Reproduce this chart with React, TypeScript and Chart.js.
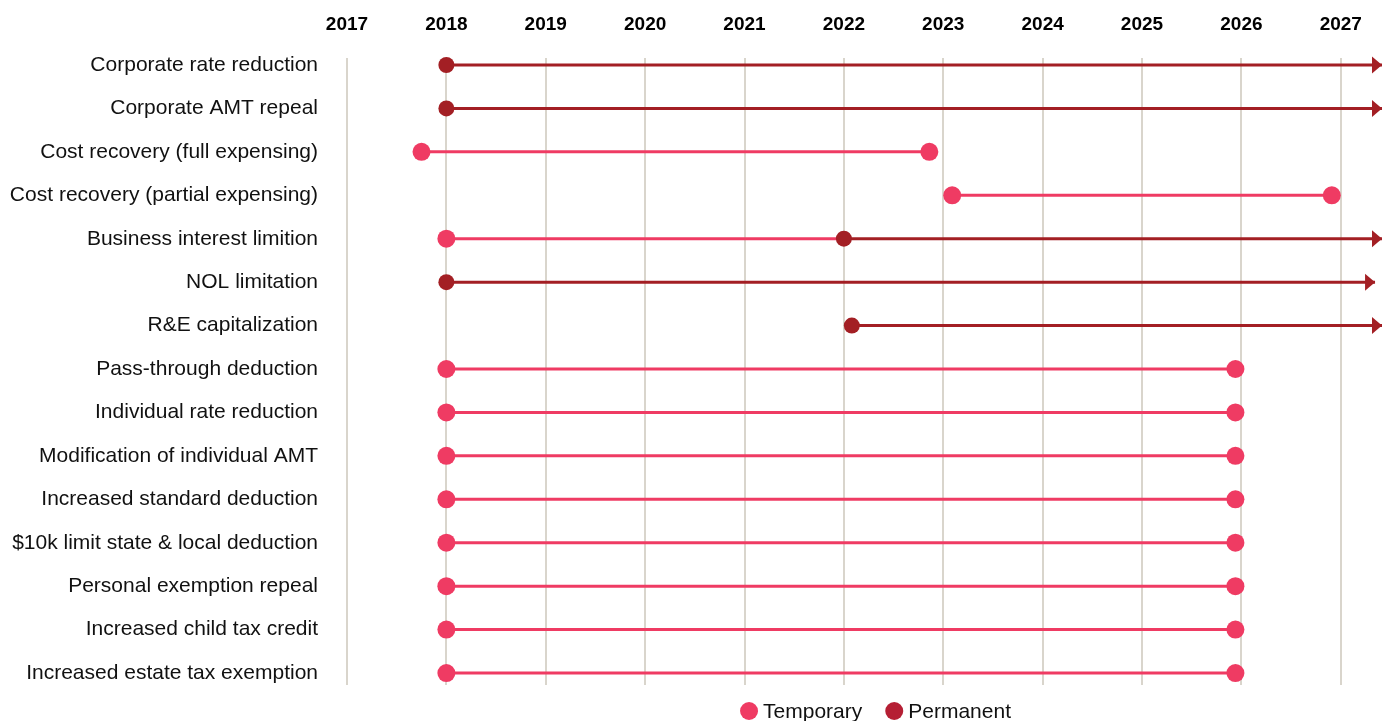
import React, { useEffect, useRef } from "react";
import { Chart, registerables } from "chart.js";
Chart.register(...registerables);

const rows = [
  "Corporate rate reduction",
  "Corporate AMT repeal",
  "Cost recovery (full expensing)",
  "Cost recovery (partial expensing)",
  "Business interest limition",
  "NOL limitation",
  "R&E capitalization",
  "Pass-through deduction",
  "Individual rate reduction",
  "Modification of individual AMT",
  "Increased standard deduction",
  "$10k limit state & local deduction",
  "Personal exemption repeal",
  "Increased child tax credit",
  "Increased estate tax exemption",
];

const years = [2017, 2018, 2019, 2020, 2021, 2022, 2023, 2024, 2025, 2026, 2027];

// Temporary provisions
const tempStart = [null, null, 2017.75, 2023.09, 2018, null, null, 2018, 2018, 2018, 2018, 2018, 2018, 2018, 2018];
const tempEnd = [null, null, 2022.86, 2026.91, 2022, null, null, 2025.94, 2025.94, 2025.94, 2025.94, 2025.94, 2025.94, 2025.94, 2025.94];
const tempEndDot = [false, false, true, true, false, false, false, true, true, true, true, true, true, true, true];

// Permanent provisions (end with an arrow)
const permStart = [2018, 2018, null, null, 2022, 2018, 2022.08, null, null, null, null, null, null, null, null];
const permEnd = [2027.415, 2027.415, null, null, 2027.415, 2027.345, 2027.415, null, null, null, null, null, null, null, null];

const legendLabels = ["Temporary", "Permanent"];

const X_MIN = 2017;
const X_MAX = 2027.415;

const PINK = "#EF3B63";
const DARK = "#A31F24";
const DARK_LEGEND = "#B51F34";
const GRID = "#D9D5CC";
const FONT = "'Liberation Sans', Arial, Helvetica, sans-serif";

const arrowPlugin = {
  id: "arrowHeads",
  afterDatasetsDraw(chart: any) {
    const ctx = chart.ctx;
    chart.data.datasets.forEach((ds: any, i: number) => {
      if (!ds.arrow) return;
      const meta = chart.getDatasetMeta(i);
      const pt = meta.data[meta.data.length - 1];
      if (!pt) return;
      ctx.save();
      ctx.fillStyle = ds.borderColor;
      ctx.beginPath();
      ctx.moveTo(pt.x, pt.y);
      ctx.lineTo(pt.x - 10, pt.y - 8.5);
      ctx.lineTo(pt.x - 10, pt.y + 8.5);
      ctx.closePath();
      ctx.fill();
      ctx.restore();
    });
  },
};

const legendPlugin = {
  id: "bottomLegend",
  afterDraw(chart: any) {
    const ctx = chart.ctx;
    const area = chart.chartArea;
    const colors = [PINK, DARK_LEGEND];
    const r = 9;
    const textGap = 14;
    const itemGap = 23;
    ctx.save();
    ctx.font = `21px ${FONT}`;
    ctx.textBaseline = "middle";
    ctx.textAlign = "left";
    const widths = legendLabels.map((t) => ctx.measureText(t).width);
    const total = widths.reduce((s, w) => s + r + textGap + w, 0) + itemGap * (legendLabels.length - 1);
    const center = (area.left + area.right) / 2 + 11;
    let x = center - total / 2;
    const y = area.bottom + 26;
    legendLabels.forEach((t, k) => {
      ctx.fillStyle = colors[k];
      ctx.beginPath();
      ctx.arc(x + r, y, r, 0, Math.PI * 2);
      ctx.fill();
      ctx.fillStyle = "#111";
      ctx.fillText(t, x + r + textGap, y + 1);
      x += r + textGap + widths[k] + itemGap;
    });
    ctx.restore();
  },
};

export default function App() {
  const ref = useRef<HTMLCanvasElement | null>(null);

  useEffect(() => {
    if (!ref.current) return;
    const datasets: any[] = [];
    rows.forEach((_, i) => {
      if (tempStart[i] != null) {
        datasets.push({
          label: "Temporary",
          data: [
            { x: tempStart[i], y: i },
            { x: tempEnd[i], y: i },
          ],
          borderColor: PINK,
          backgroundColor: PINK,
          borderWidth: 3,
          pointRadius: [9, tempEndDot[i] ? 9 : 0],
          pointHoverRadius: [9, tempEndDot[i] ? 9 : 0],
          pointBackgroundColor: PINK,
          pointBorderWidth: 0,
          clip: false,
          order: 1,
        });
      }
      if (permStart[i] != null) {
        datasets.push({
          label: "Permanent",
          data: [
            { x: permStart[i], y: i },
            { x: permEnd[i], y: i },
          ],
          borderColor: DARK,
          backgroundColor: DARK,
          borderWidth: 3,
          pointRadius: [8, 0],
          pointHoverRadius: [8, 0],
          pointBackgroundColor: DARK,
          pointBorderWidth: 0,
          clip: false,
          order: 0,
          arrow: true,
        });
      }
    });

    const chart = new Chart(ref.current, {
      type: "line",
      data: { datasets },
      plugins: [arrowPlugin, legendPlugin],
      options: {
        animation: false,
        responsive: true,
        maintainAspectRatio: false,
        events: [],
        layout: { autoPadding: false, padding: { top: -8.8, left: 0, right: 0, bottom: 36 } },
        scales: {
          x: {
            type: "linear",
            position: "top",
            min: X_MIN,
            max: X_MAX,
            afterBuildTicks: (scale: any) => {
              scale.ticks = years.map((v) => ({ value: v }));
            },
            afterFit: (scale: any) => {
              scale.paddingLeft = 0;
              scale.paddingRight = 0;
              scale.paddingTop = 0;
              scale.paddingBottom = 0;
            },
            ticks: {
              autoSkip: false,
              padding: 22,
              color: "#000",
              font: { family: FONT, size: 19, weight: "bold" },
              callback: (v: any) => String(v),
            },
            grid: { color: GRID, lineWidth: 2, drawTicks: false },
            border: { display: false },
          },
          y: {
            type: "linear",
            reverse: true,
            min: -0.161,
            max: 14.276,
            afterBuildTicks: (scale: any) => {
              scale.ticks = rows.map((_, i) => ({ value: i }));
            },
            afterFit: (scale: any) => {
              scale.width = 347;
              scale.paddingLeft = 0;
              scale.paddingRight = 0;
              scale.paddingTop = 0;
              scale.paddingBottom = 0;
            },
            ticks: {
              autoSkip: false,
              padding: 29,
              color: "#111",
              font: { family: FONT, size: 21 },
              callback: (v: any) => rows[v as number],
            },
            grid: { display: false, drawTicks: false },
            border: { display: false },
          },
        },
        plugins: {
          tooltip: { enabled: false },
          legend: { display: false },
        },
      } as any,
    });
    return () => chart.destroy();
  }, []);

  return (
    <div style={{ position: "fixed", left: 0, top: 0, width: 1382, height: 721 }}>
      <canvas ref={ref} />
    </div>
  );
}
